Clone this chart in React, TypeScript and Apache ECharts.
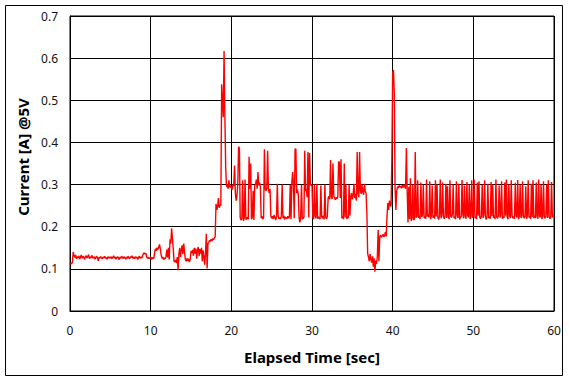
import React, { useEffect, useRef } from "react";
import * as echarts from "echarts";

// Sampling grid of the recorded trace (seconds)
const sampleStep = 0.1;

// Current [A], 10 samples per second
const current00to10 = [
  0.110, 0.113, 0.112, 0.116, 0.140, 0.131, 0.127, 0.133, 0.124, 0.129,
  0.126, 0.131, 0.123, 0.128, 0.133, 0.125, 0.130, 0.127, 0.122, 0.129,
  0.131, 0.126, 0.129, 0.134, 0.124, 0.128, 0.126, 0.132, 0.127, 0.125,
  0.129, 0.123, 0.127, 0.130, 0.126, 0.119, 0.128, 0.125, 0.129, 0.126,
  0.124, 0.128, 0.126, 0.130, 0.125, 0.127, 0.123, 0.129, 0.126, 0.128,
  0.125, 0.129, 0.124, 0.127, 0.131, 0.126, 0.128, 0.123, 0.127, 0.129,
  0.126, 0.122, 0.128, 0.125, 0.130, 0.127, 0.124, 0.129, 0.126, 0.123,
  0.128, 0.125, 0.130, 0.126, 0.124, 0.129, 0.127, 0.131, 0.125, 0.128,
  0.124, 0.129, 0.126, 0.128, 0.122, 0.127, 0.130, 0.125, 0.128, 0.126,
  0.131, 0.136, 0.138, 0.135, 0.137, 0.129, 0.125, 0.127, 0.124, 0.126,
];
const current10to20 = [
  0.128, 0.122, 0.127, 0.124, 0.126, 0.140, 0.148, 0.143, 0.150, 0.146,
  0.152, 0.158, 0.147, 0.133, 0.125, 0.128, 0.122, 0.126, 0.124, 0.129,
  0.146, 0.127, 0.150, 0.122, 0.170, 0.160, 0.196, 0.172, 0.148, 0.118,
  0.116, 0.121, 0.114, 0.128, 0.097, 0.135, 0.150, 0.128, 0.145, 0.156,
  0.135, 0.160, 0.140, 0.122, 0.118, 0.125, 0.119, 0.124, 0.116, 0.122,
  0.142, 0.138, 0.145, 0.131, 0.150, 0.136, 0.148, 0.124, 0.143, 0.152,
  0.130, 0.147, 0.136, 0.150, 0.118, 0.144, 0.128, 0.110, 0.138, 0.183,
  0.101, 0.160, 0.163, 0.168, 0.165, 0.170, 0.166, 0.172, 0.169, 0.174,
  0.176, 0.254, 0.240, 0.248, 0.268, 0.245, 0.252, 0.250, 0.538, 0.498,
  0.460, 0.617, 0.462, 0.342, 0.295, 0.300, 0.290, 0.310, 0.294, 0.298,
];
const current20to30 = [
  0.292, 0.288, 0.300, 0.296, 0.345, 0.280, 0.262, 0.275, 0.300, 0.390,
  0.386, 0.222, 0.216, 0.218, 0.310, 0.214, 0.220, 0.312, 0.217, 0.219,
  0.222, 0.218, 0.366, 0.290, 0.350, 0.218, 0.222, 0.285, 0.216, 0.298,
  0.300, 0.312, 0.290, 0.330, 0.298, 0.305, 0.294, 0.220, 0.225, 0.218,
  0.222, 0.384, 0.290, 0.285, 0.292, 0.380, 0.288, 0.280, 0.290, 0.225,
  0.220, 0.225, 0.218, 0.228, 0.222, 0.216, 0.224, 0.302, 0.226, 0.219,
  0.222, 0.218, 0.225, 0.300, 0.220, 0.226, 0.217, 0.223, 0.221, 0.219,
  0.225, 0.220, 0.223, 0.300, 0.218, 0.305, 0.330, 0.300, 0.220, 0.384,
  0.385, 0.280, 0.288, 0.276, 0.222, 0.210, 0.224, 0.300, 0.218, 0.220,
  0.223, 0.380, 0.285, 0.290, 0.270, 0.377, 0.222, 0.375, 0.300, 0.298,
];
const current30to40 = [
  0.300, 0.222, 0.218, 0.300, 0.225, 0.220, 0.302, 0.219, 0.223, 0.221,
  0.218, 0.298, 0.224, 0.220, 0.226, 0.217, 0.300, 0.222, 0.219, 0.225,
  0.268, 0.272, 0.265, 0.358, 0.270, 0.266, 0.350, 0.273, 0.268, 0.264,
  0.270, 0.266, 0.272, 0.355, 0.352, 0.268, 0.360, 0.220, 0.225, 0.218,
  0.350, 0.222, 0.300, 0.219, 0.224, 0.220, 0.300, 0.226, 0.270, 0.280,
  0.265, 0.275, 0.302, 0.268, 0.278, 0.262, 0.377, 0.280, 0.270, 0.377,
  0.285, 0.278, 0.300, 0.282, 0.276, 0.302, 0.285, 0.280, 0.235, 0.137,
  0.128, 0.118, 0.135, 0.122, 0.115, 0.130, 0.105, 0.125, 0.093, 0.120,
  0.112, 0.128, 0.192, 0.118, 0.176, 0.180, 0.175, 0.178, 0.182, 0.176,
  0.179, 0.188, 0.177, 0.225, 0.256, 0.240, 0.262, 0.252, 0.248, 0.363,
];
const current40to50 = [
  0.565, 0.572, 0.517, 0.290, 0.240, 0.285, 0.295, 0.292, 0.298, 0.294,
  0.296, 0.291, 0.299, 0.293, 0.300, 0.296, 0.290, 0.387, 0.285, 0.210,
  0.295, 0.218, 0.315, 0.214, 0.220, 0.300, 0.216, 0.218, 0.377, 0.222,
  0.224, 0.310, 0.221, 0.226, 0.218, 0.305, 0.223, 0.228, 0.300, 0.220,
  0.225, 0.219, 0.312, 0.224, 0.230, 0.222, 0.308, 0.218, 0.226, 0.298,
  0.221, 0.227, 0.219, 0.310, 0.224, 0.300, 0.222, 0.217, 0.225, 0.312,
  0.220, 0.228, 0.305, 0.223, 0.219, 0.226, 0.302, 0.221, 0.296, 0.224,
  0.218, 0.310, 0.225, 0.222, 0.229, 0.300, 0.220, 0.224, 0.218, 0.308,
  0.226, 0.221, 0.302, 0.217, 0.225, 0.223, 0.311, 0.228, 0.220, 0.298,
  0.224, 0.219, 0.306, 0.226, 0.222, 0.300, 0.218, 0.225, 0.310, 0.221,
];
const current50to60 = [
  0.227, 0.312, 0.220, 0.224, 0.218, 0.305, 0.226, 0.308, 0.222, 0.219,
  0.225, 0.300, 0.221, 0.228, 0.310, 0.223, 0.217, 0.226, 0.302, 0.220,
  0.224, 0.219, 0.306, 0.225, 0.300, 0.221, 0.227, 0.218, 0.312, 0.223,
  0.220, 0.226, 0.298, 0.222, 0.229, 0.308, 0.219, 0.224, 0.221, 0.305,
  0.226, 0.312, 0.223, 0.218, 0.300, 0.225, 0.221, 0.310, 0.227, 0.220,
  0.224, 0.219, 0.304, 0.226, 0.222, 0.311, 0.218, 0.225, 0.300, 0.223,
  0.221, 0.308, 0.227, 0.220, 0.224, 0.296, 0.219, 0.226, 0.310, 0.222,
  0.225, 0.218, 0.302, 0.223, 0.310, 0.220, 0.226, 0.221, 0.305, 0.224,
  0.219, 0.312, 0.225, 0.222, 0.300, 0.218, 0.227, 0.308, 0.223, 0.220,
  0.226, 0.300, 0.221, 0.310, 0.224, 0.219, 0.225, 0.306, 0.222, 0.228,
  0.222,
];

const xTitle = "Elapsed Time [sec]";
const yTitle = "Current [A] @5V";
const FONT = "'Noto Sans', sans-serif";

export default function App() {
  const ref = useRef<HTMLDivElement>(null);

  useEffect(() => {
    if (!ref.current) return;
    const chart = echarts.init(ref.current, undefined, { renderer: "svg" });

    const allValues = [
      ...current00to10,
      ...current10to20,
      ...current20to30,
      ...current30to40,
      ...current40to50,
      ...current50to60,
    ];
    const seriesData = allValues.map((v, i) => [
      Math.round(i * sampleStep * 1000) / 1000,
      v,
    ]);

    chart.setOption({
      animation: false,
      backgroundColor: "#ffffff",
      grid: {
        left: 70,
        right: 16,
        top: 16,
        bottom: 70,
        show: true,
        borderColor: "#000",
        borderWidth: 1,
      },
      xAxis: {
        type: "value",
        min: 0,
        max: 60,
        interval: 10,
        axisLine: { show: true, lineStyle: { color: "#000", width: 1 } },
        axisTick: { show: false },
        splitLine: { show: true, lineStyle: { color: "#000", width: 1 } },
        axisLabel: {
          color: "#111",
          fontSize: 12,
          fontFamily: FONT,
          margin: 13,
        },
      },
      yAxis: {
        type: "value",
        min: 0,
        max: 0.7,
        interval: 0.1,
        axisLine: { show: true, lineStyle: { color: "#000", width: 1 } },
        axisTick: { show: false },
        splitLine: { show: true, lineStyle: { color: "#000", width: 1 } },
        axisLabel: {
          color: "#111",
          fontSize: 12,
          fontFamily: FONT,
          margin: 12,
        },
      },
      graphic: [
        {
          type: "rect",
          shape: { x: 5.5, y: 5.5, width: 557, height: 370 },
          style: { fill: "none", stroke: "#000", lineWidth: 1 },
          silent: true,
        },
        {
          type: "text",
          x: 312,
          y: 357,
          style: {
            text: xTitle,
            fill: "#000",
            font: `bold 15px ${FONT}`,
            align: "center",
            verticalAlign: "middle",
          },
        },
        {
          type: "text",
          x: 23,
          y: 157,
          rotation: Math.PI / 2,
          style: {
            text: yTitle,
            fill: "#000",
            font: `bold 15px ${FONT}`,
            align: "center",
            verticalAlign: "middle",
          },
        },
      ],
      series: [
        {
          type: "line",
          data: seriesData,
          showSymbol: false,
          symbol: "none",
          lineStyle: { color: "#ff0000", width: 1.4 },
          z: 5,
        },
      ],
    });

    return () => {
      chart.dispose();
    };
  }, []);

  return (
    <div
      ref={ref}
      style={{
        position: "absolute",
        left: 0,
        top: 0,
        width: 570,
        height: 381,
      }}
    />
  );
}
